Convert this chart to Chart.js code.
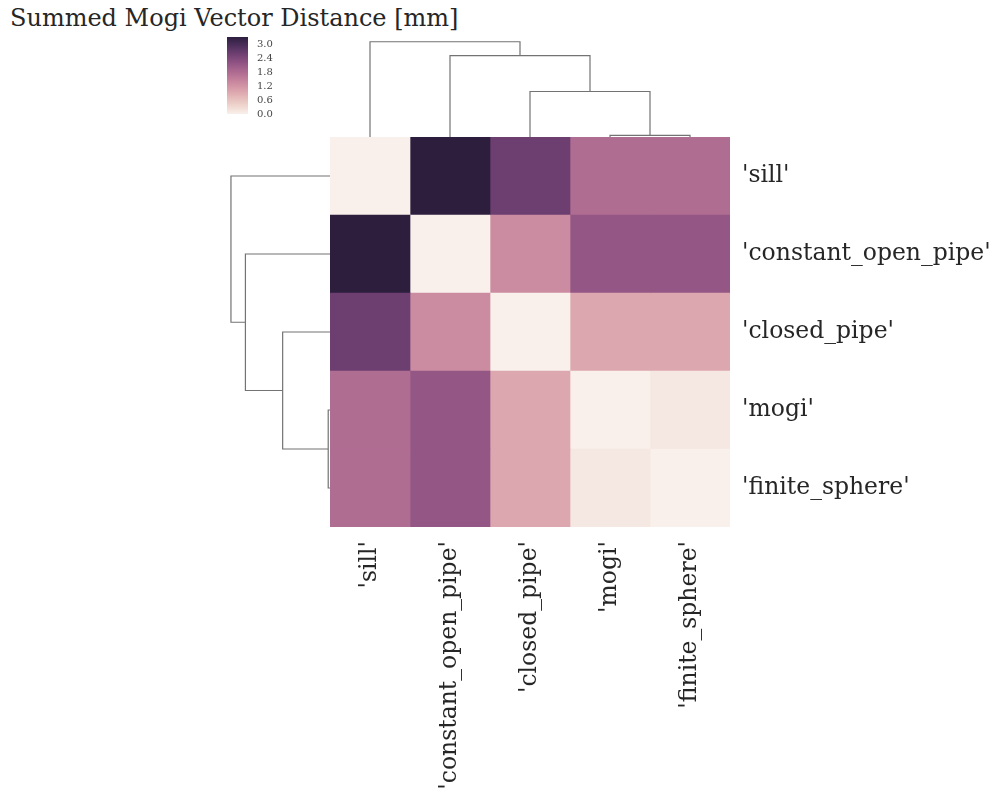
<!DOCTYPE html>
<html>
<head>
<meta charset="utf-8">
<script src="https://cdn.jsdelivr.net/npm/chart.js"></script>
<style>
  body { margin: 0; background: #fff; width: 997px; height: 796px; position: relative; overflow: hidden; }
  canvas { position: absolute; }
  #title { position: absolute; left: 10px; top: 4px; font: 24px "DejaVu Serif"; color: #262626; white-space: nowrap; }
</style>
</head>
<body>
<div id="title">Summed Mogi Vector Distance [mm]</div>
<canvas id="cbar" width="60" height="95" style="left:227px;top:30px"></canvas>
<canvas id="dendroTop" width="400" height="100" style="left:330px;top:37px"></canvas>
<canvas id="dendroLeft" width="104" height="390" style="left:226px;top:137px"></canvas>
<canvas id="heat" width="677" height="666" style="left:320px;top:130px"></canvas>
<script>
// -- labels (same order for rows and columns, as the clustermap reordered them) --
const rowLabels = ["'sill'", "'constant_open_pipe'", "'closed_pipe'", "'mogi'", "'finite_sphere'"];
const colLabels = ["'sill'", "'constant_open_pipe'", "'closed_pipe'", "'mogi'", "'finite_sphere'"];

// -- distance matrix, one row each --
const sillRow       = [0.00, 3.30, 2.60, 1.77, 1.77];
const openPipeRow   = [3.30, 0.00, 1.32, 2.13, 2.13];
const closedPipeRow = [2.60, 1.32, 0.00, 0.95, 0.95];
const mogiRow       = [1.77, 2.13, 0.95, 0.00, 0.12];
const sphereRow     = [1.77, 2.13, 0.95, 0.12, 0.00];
const matrix = [sillRow, openPipeRow, closedPipeRow, mogiRow, sphereRow];

const colorbarTicks = [0.0, 0.6, 1.2, 1.8, 2.4, 3.0];

// -- dendrogram links (scipy style: leaf coords 5,15,25..., heights) --
const linkLeafCoords = [
  [35, 35, 45, 45],
  [25, 25, 40, 40],
  [15, 15, 32.5, 32.5],
  [5, 5, 23.75, 23.75],
];
const linkHeights = [
  [0, 0.09, 0.09, 0],
  [0, 2.39, 2.39, 0.09],
  [0, 4.27, 4.27, 2.39],
  [0, 5.0, 5.0, 4.27],
];

const textColor = "#262626";
const lineColor = "#737373";
const serif = "DejaVu Serif";

const vmin = 0;
const vmax = Math.max(...matrix.flat());

// seaborn cubehelix_palette(light=.95, dark=.15) as a colormap
function cubehelix(v) {
  let t = (v - vmin) / (vmax - vmin);
  t = Math.min(1, Math.max(0, t));
  const x = 0.95 + (0.15 - 0.95) * t;
  const a = 0.8 * x * (1 - x) / 2;
  const phi = 2 * Math.PI * (0.4 * x);
  const c = Math.cos(phi), s = Math.sin(phi);
  const ch = (p0, p1) => {
    const val = x + a * (p0 * c + p1 * s);
    return Math.round(255 * Math.min(1, Math.max(0, val)));
  };
  return `rgb(${ch(-0.14861, 1.78277)}, ${ch(-0.29227, -0.90649)}, ${ch(1.97294, 0)})`;
}

Chart.defaults.animation = false;
Chart.defaults.font.family = serif;
Chart.defaults.color = textColor;

const hiddenPlugins = { legend: { display: false }, tooltip: { enabled: false } };

// keep the plot area exactly where the layout padding puts it
function noEdgePadding(scale) {
  scale.paddingTop = 0;
  scale.paddingBottom = 0;
  scale.paddingLeft = 0;
  scale.paddingRight = 0;
}

// ---- heatmap (stacked horizontal bars, one dataset per column) ----
const heatDatasets = colLabels.map((col, j) => ({
  label: col,
  data: rowLabels.map(() => 1),
  backgroundColor: matrix.map((row) => cubehelix(row[j])),
  borderWidth: 0,
  barPercentage: 1,
  categoryPercentage: 1,
}));

new Chart(document.getElementById("heat"), {
  type: "bar",
  data: { labels: rowLabels, datasets: heatDatasets },
  options: {
    responsive: false,
    indexAxis: "y",
    layout: { padding: { left: 10, top: 7, right: 0, bottom: 0 } },
    plugins: hiddenPlugins,
    scales: {
      x: { stacked: true, min: 0, max: colLabels.length, display: false },
      x2: {
        type: "category",
        labels: colLabels,
        position: "bottom",
        offset: true,
        grid: { display: false, drawTicks: false },
        border: { display: false },
        ticks: {
          autoSkip: false,
          minRotation: 90,
          maxRotation: 90,
          padding: 14,
          color: textColor,
          font: { family: serif, size: 23.5 },
        },
        afterFit: (scale) => { scale.height = 269; noEdgePadding(scale); },
      },
      y: {
        stacked: true,
        position: "right",
        grid: { display: false, drawTicks: false },
        border: { display: false },
        ticks: { padding: 12, color: textColor, font: { family: serif, size: 23.5 } },
        afterFit: (scale) => { scale.width = 267; noEdgePadding(scale); },
      },
    },
  },
});

// ---- colorbar ----
new Chart(document.getElementById("cbar"), {
  type: "bar",
  data: {
    labels: [""],
    datasets: [{
      data: [[vmin, vmax]],
      borderWidth: 0,
      barPercentage: 1,
      categoryPercentage: 1,
      backgroundColor: (ctx) => {
        const area = ctx.chart.chartArea;
        if (!area) return cubehelix(vmax);
        const g = ctx.chart.ctx.createLinearGradient(0, area.bottom, 0, area.top);
        for (let i = 0; i <= 32; i++) g.addColorStop(i / 32, cubehelix(vmin + (vmax - vmin) * i / 32));
        return g;
      },
    }],
  },
  options: {
    responsive: false,
    layout: { padding: { left: 0, top: 7, right: 0, bottom: 11 } },
    plugins: hiddenPlugins,
    scales: {
      x: { display: false },
      y: {
        position: "right",
        min: vmin,
        max: vmax,
        grid: { display: false, drawTicks: false },
        border: { display: false },
        afterBuildTicks: (scale) => { scale.ticks = colorbarTicks.map((v) => ({ value: v })); },
        ticks: {
          autoSkip: false,
          padding: 9,
          color: "#444",
          font: { family: serif, size: 10 },
          callback: (v) => Number(v).toFixed(1),
        },
        afterFit: (scale) => { scale.width = 39; noEdgePadding(scale); },
      },
    },
  },
});

// ---- dendrograms ----
const dendroMax = Math.max(...linkHeights.flat()) * 1.05;

function linkDatasets(vertical) {
  return linkLeafCoords.map((coords, k) => ({
    data: coords.map((c, i) => vertical ? { x: linkHeights[k][i], y: c } : { x: c, y: linkHeights[k][i] }),
    showLine: true,
    borderColor: lineColor,
    borderWidth: 1.2,
    pointRadius: 0,
    clip: false,
  }));
}

const leafAxis = { type: "linear", min: 0, max: 10 * rowLabels.length, display: false };
const heightAxis = { type: "linear", min: 0, max: dendroMax, display: false };

new Chart(document.getElementById("dendroTop"), {
  type: "scatter",
  data: { datasets: linkDatasets(false) },
  options: {
    responsive: false,
    layout: { padding: 0 },
    plugins: hiddenPlugins,
    scales: { x: leafAxis, y: heightAxis },
  },
});

new Chart(document.getElementById("dendroLeft"), {
  type: "scatter",
  data: { datasets: linkDatasets(true) },
  options: {
    responsive: false,
    layout: { padding: 0 },
    plugins: hiddenPlugins,
    scales: {
      x: { ...heightAxis, reverse: true },
      y: { ...leafAxis, reverse: true },
    },
  },
});
</script>
</body>
</html>
